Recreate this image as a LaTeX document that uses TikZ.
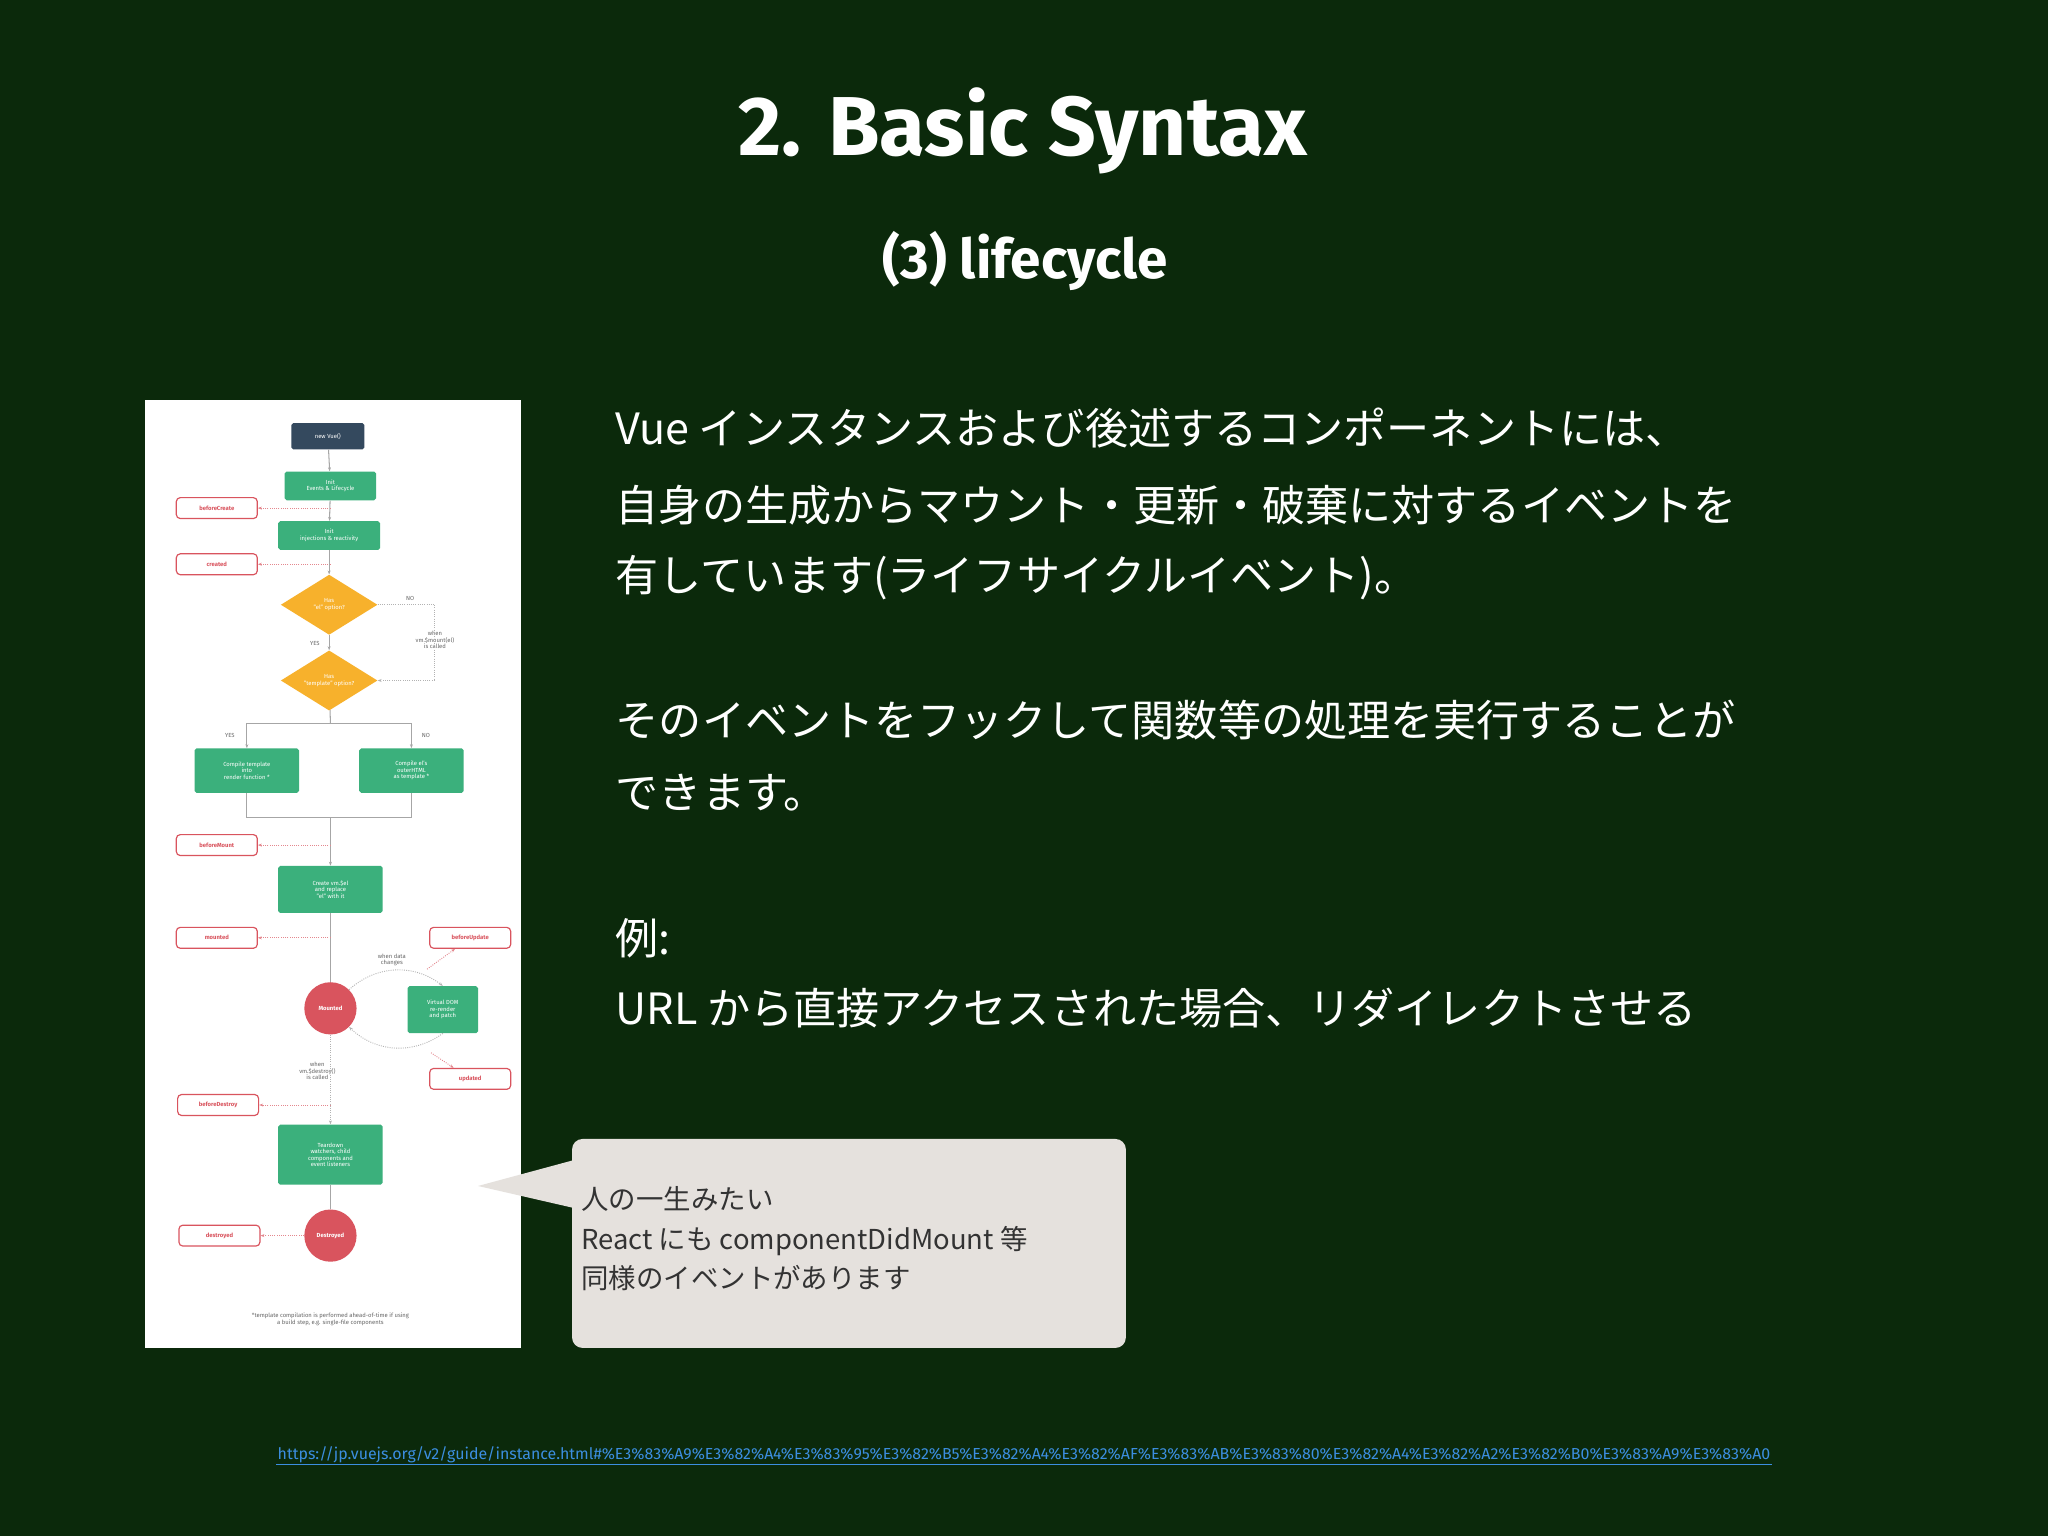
\documentclass[tikz,border=0pt]{standalone}
\usepackage{fontspec}
\setmainfont{Fira Sans}
\newfontfamily\jp{Noto Sans CJK JP}
\usetikzlibrary{shapes.geometric,arrows.meta}
\definecolor{bg}{HTML}{0B290B}
\definecolor{vgreen}{HTML}{3BB07C}
\definecolor{vred}{HTML}{D9545E}
\definecolor{vorange}{HTML}{F7B12C}
\definecolor{vdark}{HTML}{34495E}
\definecolor{callout}{HTML}{E5E1DD}
\definecolor{link}{HTML}{3C8EE0}
\tikzset{
  tiny/.style={font=\fontsize{4.5}{5}\selectfont, text=white, align=center},
  gbox/.style={tiny, fill=vgreen, rounded corners=1.5pt, minimum width=#1, minimum height=22pt, inner sep=1pt},
  gbox/.default=74pt,
  hook/.style={draw=vred, line width=0.9pt, rounded corners=3pt, minimum width=62pt, minimum height=16pt, font=\fontsize{4.5}{5}\selectfont\bfseries, text=vred},
  dia/.style={diamond, aspect=1.7, fill=vorange, tiny, inner sep=2pt, minimum width=74pt, minimum height=46pt},
  circ/.style={circle, fill=vred, minimum size=40pt, tiny, font=\fontsize{4.5}{5}\selectfont\bfseries},
  flow/.style={draw=gray!70, line width=0.8pt},
  dot/.style={draw=vred!70, densely dotted, line width=0.7pt},
  gdot/.style={draw=gray!60, densely dotted, line width=0.7pt},
  lbl/.style={font=\fontsize{4.5}{5}\selectfont, text=gray!80!black, align=center},
  body/.style={anchor=west, font=\jp\fontsize{33}{40}\selectfont, text=white},
}
\begin{document}
\begin{tikzpicture}[x=1pt,y=-1pt]
\fill[bg] (0,0) rectangle (1568,1176);
\useasboundingbox (0,0) rectangle (1568,1176);
\node[text=white, font=\fontsize{64}{70}\selectfont\bfseries] (title) at (783,100) {2. Basic Syntax};
\node[text=white, font=\fontsize{42}{48}\selectfont\bfseries] (sub) at (785,200) {(3) lifecycle};
% lifecycle panel
\fill[white] (111,306) rectangle (399,1032);
\node[tiny, fill=vdark, rounded corners=1.5pt, minimum width=56pt, minimum height=20pt] (nv) at (251,334) {new Vue()};
\node[gbox=70pt] (ie) at (253,372) {Init\\Events \& Lifecycle};
\node[gbox=78pt] (ii) at (252,410) {Init\\injections \& reactivity};
\node[hook] (bc) at (166,389) {beforeCreate};
\node[hook] (cr) at (166,432) {created};
\node[dia] (d1) at (252,463) {Has\\"el" option?};
\node[dia] (d2) at (252,521) {Has\\"template" option?};
\node[gbox=80pt, minimum height=34pt] (ct) at (189,590) {Compile template\\into\\render function *};
\node[gbox=80pt, minimum height=34pt] (co) at (315,590) {Compile el's\\outerHTML\\as template *};
\node[hook] (bm) at (166,647) {beforeMount};
\node[gbox=80pt, minimum height=36pt] (cv) at (253,681) {Create vm.\$el\\and replace\\"el" with it};
\node[hook] (mt) at (166,718) {mounted};
\node[hook] (bu) at (360,718) {beforeUpdate};
\node[circ] (mo) at (253,772) {Mounted};
\node[gbox=54pt, minimum height=36pt] (vd) at (339,773) {Virtual DOM\\re-render\\and patch};
\node[hook] (up) at (360,826) {updated};
\node[hook] (bd) at (167,846) {beforeDestroy};
\node[gbox=80pt, minimum height=46pt] (td) at (253,884) {Teardown\\watchers, child\\components and\\event listeners};
\node[circ] (de) at (253,946) {Destroyed};
\node[hook] (ds) at (168,946) {destroyed};
\node[lbl] (no1) at (314,458) {NO};
\node[lbl] (wm) at (333,490) {when\\vm.\$mount(el)\\is called};
\node[lbl] (yes1) at (241,493) {YES};
\node[lbl] (yes2) at (176,563) {YES};
\node[lbl] (no2) at (326,563) {NO};
\node[lbl] (wd) at (300,735) {when data\\changes};
\node[lbl] (wy) at (243,820) {when\\vm.\$destroy()\\is called};
\node[lbl] (fn) at (253,1010) {*template compilation is performed ahead-of-time if using\\a build step, e.g. single-file components};
\coordinate (m1) at (253,554); \coordinate (m2) at (253,626);
\draw[flow,-{Stealth[length=3pt]}] (nv) -- (ie);
\draw[flow,-{Stealth[length=3pt]}] (ie) -- (ii);
\draw[flow,-{Stealth[length=3pt]}] (ii) -- (d1);
\draw[flow,-{Stealth[length=3pt]}] (d1) -- (d2);
\draw[flow] (d2) -- (m1);
\draw[flow,-{Stealth[length=3pt]}] (m1) -| (ct);
\draw[flow,-{Stealth[length=3pt]}] (m1) -| (co);
\draw[flow] (ct) |- (m2); \draw[flow] (co) |- (m2);
\draw[flow,-{Stealth[length=3pt]}] (m2) -- (cv);
\draw[flow] (cv) -- (mo);
\draw[gdot,-{Stealth[length=3pt]}] (mo) -- (td);
\draw[flow] (td) -- (de);
\draw[gdot,-{Stealth[length=3pt]}] (d1.east) -| (333,470) |- (d2.east);
\draw[gdot,-{Stealth[length=3pt]}] (mo.north east) to[bend left=40] (vd.north);
\draw[gdot,-{Stealth[length=3pt]}] (vd.south) to[bend left=40] (mo.south east);
\draw[dot,-{Stealth[length=3pt]}] (253,389) -- (bc);
\draw[dot,-{Stealth[length=3pt]}] (253,432) -- (cr);
\draw[dot,-{Stealth[length=3pt]}] (253,647) -- (bm);
\draw[dot,-{Stealth[length=3pt]}] (253,718) -- (mt);
\draw[dot,-{Stealth[length=3pt]}] (253,846) -- (bd);
\draw[dot,-{Stealth[length=3pt]}] (de) -- (ds);
\draw[dot,-{Stealth[length=3pt]}] (327,742) -- (bu);
\draw[dot,-{Stealth[length=3pt]}] (330,806) -- (up);
% body text
\node[body] (l1) at (468,328) {Vue インスタンスおよび後述するコンポーネントには、};
\node[body] (l2) at (468,387) {自身の生成からマウント・更新・破棄に対するイベントを};
\node[body] (l3) at (468,442) {有しています(ライフサイクルイベント)。};
\node[body] (l4) at (468,551) {そのイベントをフックして関数等の処理を実行することが};
\node[body] (l5) at (468,607) {できます。};
\node[body] (l6) at (468,718) {例:};
\node[body] (l7) at (468,772) {URL から直接アクセスされた場合、リダイレクトさせる};
% callout
\fill[callout, rounded corners=8pt] (438,872) rectangle (862,1032);
\fill[callout] (440,888) -- (366,908) -- (440,925) -- cycle;
\node[anchor=north west, align=left, text=black!80, font=\jp\fontsize{21}{30.5}\selectfont, inner sep=0pt] (ct1) at (445,908) {人の一生みたい\\React にも componentDidMount 等\\同様のイベントがあります};
% url
\node[text=link, font=\fontsize{12.2}{14}\selectfont, inner sep=1pt] (url) at (784,1114) {https://jp.vuejs.org/v2/guide/instance.html\#\%E3\%83\%A9\%E3\%82\%A4\%E3\%83\%95\%E3\%82\%B5\%E3\%82\%A4\%E3\%82\%AF\%E3\%83\%AB\%E3\%83\%80\%E3\%82\%A4\%E3\%82\%A2\%E3\%82\%B0\%E3\%83\%A9\%E3\%83\%A0};
\draw[link, line width=0.6pt] (url.south west) -- (url.south east);
\end{tikzpicture}
\end{document}
